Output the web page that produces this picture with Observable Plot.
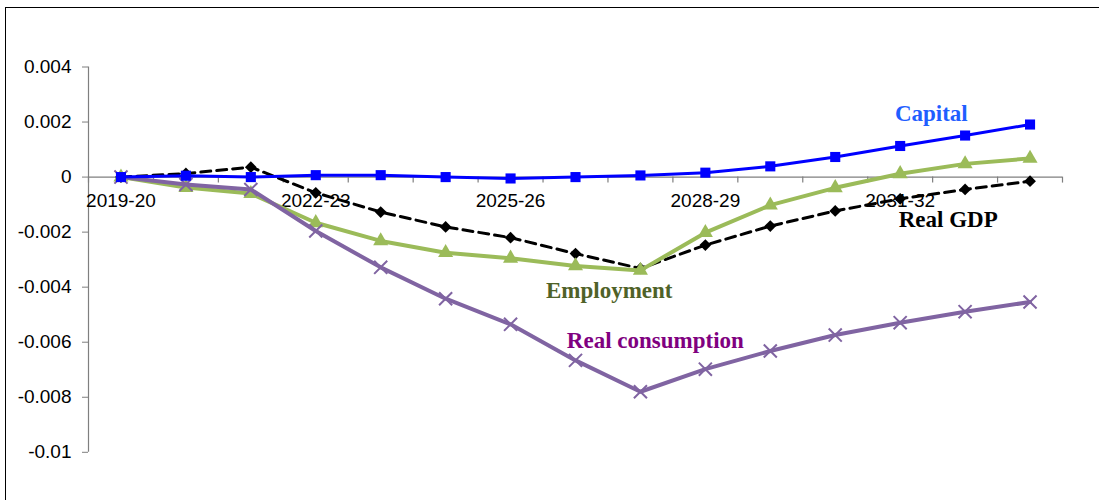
<!DOCTYPE html>
<html><head><meta charset="utf-8">
<script src="https://cdn.jsdelivr.net/npm/d3@7"></script>
<script src="https://cdn.jsdelivr.net/npm/@observablehq/plot@0.6"></script>
<style>
body{margin:0;background:#fff;}
#wrap{position:relative;width:1099px;height:500px;overflow:hidden;}
#border{position:absolute;left:5px;top:7px;right:-10px;bottom:-10px;border-left:1.5px solid #000;border-top:1.5px solid #000;}
#chart{position:absolute;left:0;top:0;}
</style></head><body>
<div id="wrap"><div id="border"></div><div id="chart"></div></div>
<script>
const years = ["2019-20","2020-21","2021-22","2022-23","2023-24","2024-25","2025-26","2026-27","2027-28","2028-29","2029-30","2030-31","2031-32","2032-33","2033-34"];
const capital     = [0, 0.00005, 0, 0.00007, 0.00007, 0, -0.00005, 0, 0.00006, 0.00016, 0.00039, 0.00073, 0.00113, 0.00151, 0.00191];
const realGDP     = [0, 0.00013, 0.00036, -0.00057, -0.00127, -0.00181, -0.0022, -0.00278, -0.00332, -0.00247, -0.00178, -0.00123, -0.00079, -0.00045, -0.00015];
const employment  = [0, -0.00038, -0.0006, -0.00166, -0.00232, -0.00275, -0.00295, -0.00323, -0.00339, -0.00202, -0.00102, -0.00039, 0.00012, 0.00048, 0.00068];
const consumption = [0, -0.00027, -0.00045, -0.00196, -0.00328, -0.00442, -0.00535, -0.00666, -0.0078, -0.00698, -0.00632, -0.00574, -0.00529, -0.00489, -0.00454];
const yTicks = [0.004, 0.002, 0, -0.002, -0.004, -0.006, -0.008, -0.01];
const xLabelIdx = [0, 3, 6, 9, 12];
const seriesLabels = [
  {text: "Capital", x: 12.48, y: 0.00229, color: "#1f5eff"},
  {text: "Real GDP", x: 12.74, y: -0.00155, color: "#000000"},
  {text: "Employment", x: 7.52, y: -0.00414, color: "#4f6228"},
  {text: "Real consumption", x: 8.23, y: -0.00595, color: "#800080"}
];

const toRows = (arr) => arr.map((v, i) => ({i, v}));
const axisColor = "#7f7f7f";
const boundaries = d3.range(years.length + 1).map(i => i - 0.5);

const chart = Plot.plot({
  width: 1099, height: 500,
  marginLeft: 88, marginRight: 37, marginTop: 66.5, marginBottom: 48.2,
  style: {fontFamily: "'Liberation Sans', Arial, sans-serif", fontSize: "19px", background: "transparent", overflow: "visible", color: "#000"},
  x: {type: "linear", domain: [-0.5, years.length - 0.5], axis: null},
  y: {domain: [-0.01, 0.004], axis: null},
  color: {type: "identity"},
  marks: [
    Plot.ruleX([-0.5], {stroke: axisColor, strokeWidth: 1.2}),
    Plot.axisY({anchor: "left", ticks: yTicks, tickSize: 6, tickPadding: 11, stroke: axisColor, color: "#000", fontSize: 19,
      tickFormat: d => d === 0 ? "0" : String(+d.toFixed(4))}),
    Plot.ruleY([0], {stroke: axisColor, strokeWidth: 1.2}),
    Plot.ruleX(boundaries, {x: d => d, y1: () => 0, y2: () => 0, insetBottom: -6, stroke: axisColor, strokeWidth: 1.2}),
    Plot.text(xLabelIdx, {x: d => d, y: () => 0, text: d => years[d], dy: 24, fontSize: 19, fill: "#000"}),
    // Real GDP
    Plot.line(toRows(realGDP), {x: "i", y: "v", stroke: "#000", strokeWidth: 3, strokeDasharray: "10,6"}),
    Plot.dot(toRows(realGDP), {x: "i", y: "v", symbol: "diamond2", r: 5.3, fill: "#000", stroke: "none"}),
    // Employment
    Plot.line(toRows(employment), {x: "i", y: "v", stroke: "#9bbb59", strokeWidth: 4}),
    Plot.dot(toRows(employment), {x: "i", y: "v", symbol: "triangle", r: 5.6, fill: "#9bbb59", stroke: "none"}),
    // Real consumption
    Plot.line(toRows(consumption), {x: "i", y: "v", stroke: "#8064a2", strokeWidth: 4}),
    Plot.dot(toRows(consumption), {x: "i", y: "v", symbol: "times", r: 6, stroke: "#8064a2", strokeWidth: 2}),
    // Capital
    Plot.line(toRows(capital), {x: "i", y: "v", stroke: "#0000ff", strokeWidth: 3}),
    Plot.dot(toRows(capital), {x: "i", y: "v", symbol: "square", r: 5.7, fill: "#0000ff", stroke: "none"}),
    // Series annotations
    Plot.text(seriesLabels, {x: "x", y: "y", text: "text", fill: "color", fontFamily: "'Liberation Serif', 'Times New Roman', serif", fontWeight: "bold", fontSize: 23})
  ]
});
document.getElementById("chart").appendChild(chart);
</script>
</body></html>
